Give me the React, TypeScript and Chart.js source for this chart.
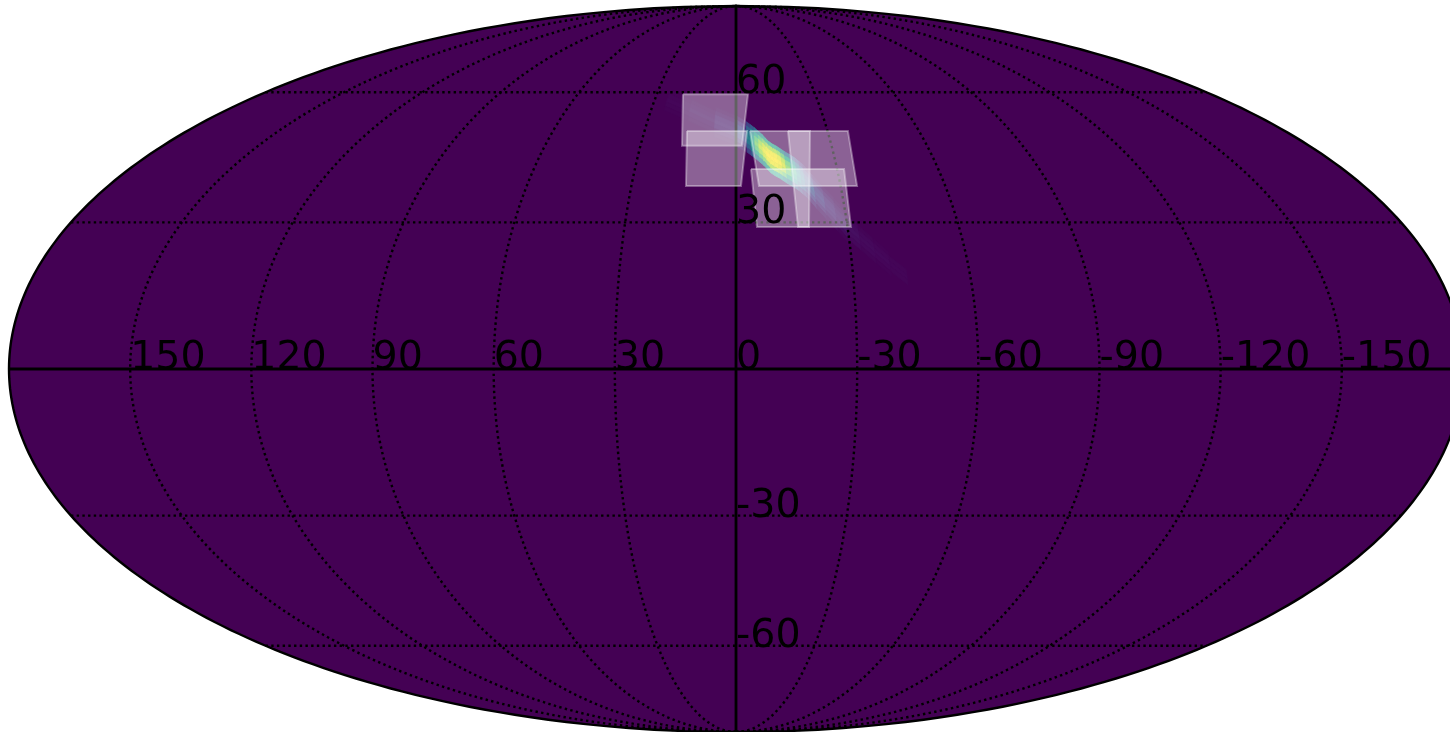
import React, { useEffect, useRef } from "react";
import { Chart, registerables } from "chart.js";

Chart.register(...registerables);

// Graticule ticks (degrees)
const lonTicks = [150, 120, 90, 60, 30, 0, -30, -60, -90, -120, -150];
const latTicks = [60, 30, -30, -60];

// Sky-map streak: centre line of the probability band, top to bottom
const streakLon = [25.4, 16.3, 7.1, 0.3, -3.5, -4.8, -6, -7.2, -8.4, -9.4, -10.4, -11.5, -12.7, -13.8, -14.9, -16.4, -17.9, -19, -20, -22.4, -24.8, -27.4, -29.9, -32.9, -36.4, -39.9, -43.8];
const streakLat = [58, 55.5, 52.6, 50.6, 49, 48.3, 47.6, 46.8, 46, 45.1, 44.3, 43.7, 43.2, 42.6, 42, 41.3, 40.5, 39.7, 39, 36.5, 34.1, 31.6, 29, 26.7, 24, 21.3, 18.6];
// Latitude offsets of the across-band bins
const binEdges = [3.6, 2.6, 1.6, 0.5, -0.5, -1.6, -2.6, -3.6];
// Normalised probability per cell: one row per streak segment, one column per bin
const streakValues = [
  [0.0, 0.005, 0.01, 0.015, 0.01, 0.005, 0.0],
  [0.0, 0.01, 0.02, 0.03, 0.02, 0.01, 0.0],
  [0.01, 0.03, 0.06, 0.07, 0.06, 0.03, 0.01],
  [0.05, 0.12, 0.18, 0.22, 0.18, 0.12, 0.05],
  [0.2, 0.32, 0.4, 0.44, 0.4, 0.32, 0.2],
  [0.28, 0.44, 0.54, 0.58, 0.54, 0.44, 0.28],
  [0.38, 0.58, 0.72, 0.78, 0.72, 0.58, 0.38],
  [0.46, 0.7, 0.84, 0.9, 0.84, 0.7, 0.46],
  [0.52, 0.78, 0.92, 0.97, 0.92, 0.78, 0.52],
  [0.56, 0.84, 0.97, 1.0, 0.97, 0.84, 0.56],
  [0.58, 0.86, 0.98, 1.0, 0.98, 0.86, 0.58],
  [0.58, 0.86, 0.98, 1.0, 0.98, 0.86, 0.58],
  [0.54, 0.82, 0.95, 0.99, 0.95, 0.82, 0.54],
  [0.46, 0.74, 0.88, 0.93, 0.88, 0.74, 0.46],
  [0.36, 0.6, 0.74, 0.8, 0.74, 0.6, 0.36],
  [0.26, 0.46, 0.58, 0.64, 0.58, 0.46, 0.26],
  [0.18, 0.34, 0.44, 0.48, 0.44, 0.34, 0.18],
  [0.12, 0.25, 0.33, 0.36, 0.33, 0.25, 0.12],
  [0.07, 0.15, 0.22, 0.25, 0.22, 0.15, 0.07],
  [0.03, 0.08, 0.13, 0.15, 0.13, 0.08, 0.03],
  [0.02, 0.05, 0.08, 0.09, 0.08, 0.05, 0.02],
  [0.01, 0.03, 0.05, 0.06, 0.05, 0.03, 0.01],
  [0.0, 0.02, 0.03, 0.04, 0.03, 0.02, 0.0],
  [0.0, 0.01, 0.02, 0.025, 0.02, 0.01, 0.0],
  [0.0, 0.005, 0.015, 0.02, 0.015, 0.005, 0.0],
  [0.0, 0.0, 0.01, 0.012, 0.01, 0.0, 0.0],
];

// Survey footprints: [lon, lat] corners
const fieldA = [[20.1, 59.5], [-4.55, 59.5], [-1.88, 46.9], [16.95, 46.9]];
const fieldB = [[16.07, 50.4], [-3.61, 50.4], [-1.43, 37.85], [14.34, 37.85]];
const fieldC = [[-4.59, 50.4], [-36.7, 50.4], [-34.7, 37.85], [-6.59, 37.85]];
const fieldD = [[-17.05, 50.4], [-24.27, 50.4], [-19.64, 29], [-16.68, 29]];
const fieldE = [[-4.45, 41.6], [-32.05, 41.6], [-30.94, 29], [-5.65, 29]];
const fields = [fieldA, fieldB, fieldC, fieldD, fieldE];

const viridis = ["#440154", "#482475", "#414487", "#355f8d", "#2a788e", "#21918c", "#22a884", "#44bf70", "#7ad151", "#bddf26", "#fde725"];

function hexRgb(h: string) {
  return [1, 3, 5].map((i) => parseInt(h.slice(i, i + 2), 16));
}
function colour(v: number) {
  const p = Math.min(0.9999, Math.max(0, v)) * (viridis.length - 1);
  const i = Math.floor(p);
  const a = hexRgb(viridis[i]);
  const b = hexRgb(viridis[i + 1]);
  const c = a.map((q, k) => Math.round(q + (b[k] - q) * (p - i)));
  return `rgb(${c[0]},${c[1]},${c[2]})`;
}

// Mollweide projection, unit ellipse; east on the left as in sky maps
function project(lon: number, lat: number) {
  const target = Math.PI * Math.sin((lat * Math.PI) / 180);
  let lo = -Math.PI / 2;
  let hi = Math.PI / 2;
  for (let i = 0; i < 50; i++) {
    const m = (lo + hi) / 2;
    if (2 * m + Math.sin(2 * m) < target) lo = m;
    else hi = m;
  }
  const t = (lo + hi) / 2;
  return { x: (-lon / 180) * Math.cos(t), y: Math.sin(t) };
}

function meridian(lon: number) {
  const pts = [];
  for (let lat = -90; lat <= 90; lat += 1) pts.push(project(lon, lat));
  return pts;
}

// A one-piece dash keeps the line solid and makes Chart.js trace every point
const solidDash = [100000, 0];

const base = {
  pointRadius: 0,
  pointHoverRadius: 0,
  tension: 0,
  fill: false,
  borderCapStyle: "butt",
};

function buildDatasets() {
  const out: any[] = [];
  const outlinePts = [...meridian(180), ...meridian(-180).reverse()];
  out.push({ ...base, data: outlinePts, fill: "shape", backgroundColor: "#440154", borderWidth: 0, borderColor: "#440154", borderDash: solidDash });

  streakValues.forEach((row, i) => {
    row.forEach((v, k) => {
      if (v <= 0) return;
      const c = colour(v);
      const data = [
        project(streakLon[i], streakLat[i] + binEdges[k]),
        project(streakLon[i + 1], streakLat[i + 1] + binEdges[k]),
        project(streakLon[i + 1], streakLat[i + 1] + binEdges[k + 1]),
        project(streakLon[i], streakLat[i] + binEdges[k + 1]),
      ];
      data.push(data[0]);
      out.push({ ...base, data, fill: "shape", backgroundColor: c, borderColor: c, borderWidth: 0.8, borderDash: solidDash });
    });
  });

  const dotted = { ...base, borderColor: "#000", borderWidth: 2.4, borderDash: [2.4, 3.3] };
  lonTicks.filter((l) => l !== 0).forEach((l) => out.push({ ...dotted, data: meridian(l) }));
  latTicks.forEach((lat) => out.push({ ...dotted, data: [project(180, lat), project(-180, lat)] }));

  const solid = { ...base, borderColor: "#000", borderWidth: 2.8, borderDash: solidDash };
  out.push({ ...solid, data: [project(180, 0), project(-180, 0)] });
  out.push({ ...solid, data: meridian(0) });

  fields.forEach((f) => {
    const data = f.map(([lon, lat]) => project(lon, lat));
    data.push(data[0]);
    out.push({ ...base, data, fill: "shape", backgroundColor: "rgba(255,255,255,0.38)", borderColor: "rgba(255,255,255,0.35)", borderWidth: 2, borderDash: solidDash });
  });

  out.push({ ...base, data: outlinePts, borderColor: "#000", borderWidth: 2.4, borderDash: solidDash });
  return out.map((d, i) => ({ ...d, order: -i, label: `layer ${i}` }));
}

const tickLabels = {
  id: "tickLabels",
  afterDatasetsDraw(chart: any) {
    const { ctx, scales } = chart;
    ctx.save();
    ctx.fillStyle = "#000";
    ctx.font = '39.5px "DejaVu Sans"';
    ctx.textAlign = "left";
    ctx.textBaseline = "alphabetic";
    lonTicks.forEach((l) => {
      const p = project(l, 0);
      ctx.fillText(String(l), scales.x.getPixelForValue(p.x), scales.y.getPixelForValue(p.y));
    });
    latTicks.forEach((lat) => {
      const p = project(0, lat);
      ctx.fillText(String(lat), scales.x.getPixelForValue(p.x), scales.y.getPixelForValue(p.y) + 1);
    });
    ctx.restore();
  },
};

export default function App() {
  const ref = useRef<HTMLCanvasElement>(null);
  useEffect(() => {
    const chart = new Chart(ref.current as HTMLCanvasElement, {
      type: "line",
      data: { datasets: buildDatasets() },
      options: {
        animation: false,
        responsive: false,
        devicePixelRatio: 1,
        events: [],
        layout: { padding: 0 },
        plugins: { legend: { display: false }, title: { display: false }, tooltip: { enabled: false } },
        scales: {
          x: { type: "linear", display: false, min: -736 / 727, max: 714 / 727 },
          y: { type: "linear", display: false, min: -363 / 363, max: 369 / 363 },
        },
      },
      plugins: [tickLabels],
    } as any);
    return () => chart.destroy();
  }, []);
  return (
    <canvas
      ref={ref}
      width={1450}
      height={732}
      style={{ position: "fixed", left: 0, top: 0, width: 1450, height: 732, filter: "blur(0.3px)" }}
    />
  );
}
